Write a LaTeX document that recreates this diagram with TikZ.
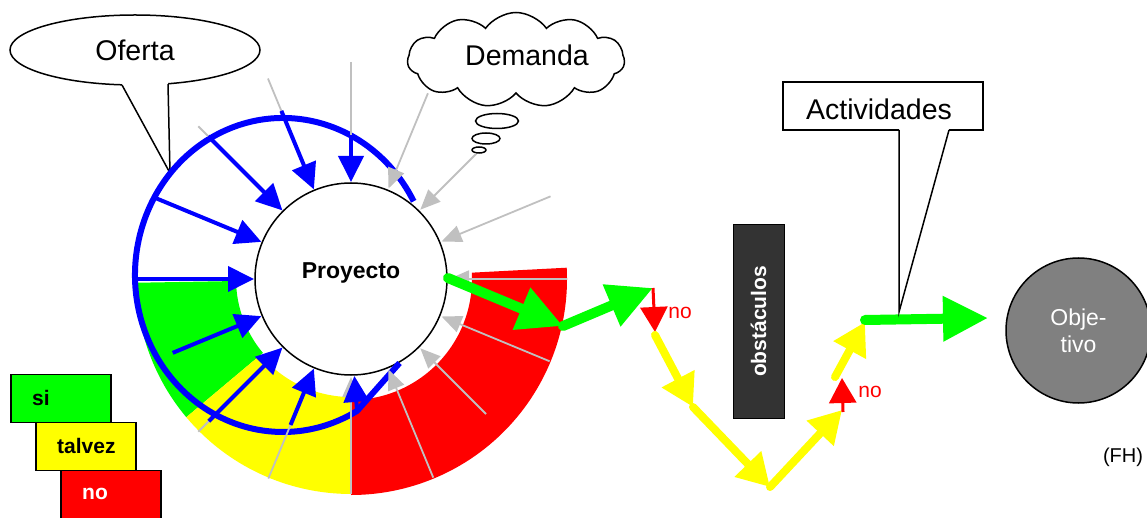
\documentclass[tikz,border=0pt]{standalone}
\usepackage{fontspec}
\setmainfont{Liberation Sans}
\usetikzlibrary{arrows.meta,shapes.symbols,shapes.geometric,calc}
\definecolor{cgreen}{RGB}{0,255,0}
\definecolor{cyellow}{RGB}{255,255,0}
\definecolor{cred}{RGB}{255,0,0}
\definecolor{cblue}{RGB}{0,0,255}
\definecolor{cgray}{RGB}{192,192,192}
\definecolor{cdark}{RGB}{51,51,51}
\definecolor{cobj}{RGB}{128,128,128}
\begin{document}
\begin{tikzpicture}[x=1pt,y=1pt,
  bigtxt/.style={font=\fontsize{28.5}{34}\selectfont, inner sep=0},
  garrow/.style={draw=cgray, line width=1.8, -{Triangle[length=20pt,width=17pt]}},
  barrow/.style={draw=cblue, line width=4, -{Triangle[length=26pt,width=25pt]}},
  grpath/.style={draw=cgreen, line width=10, line cap=round, -{Triangle[length=45pt,width=43pt]}},
  ypath/.style={draw=cyellow, line width=8, line cap=round, -{Triangle[length=32pt,width=35pt]}},
  rpath/.style={draw=cred, line width=3, -{Triangle[length=25pt,width=27pt]}},
  legbox/.style={draw, line width=1.5, minimum width=100, minimum height=48, inner sep=0, anchor=south west},
  legtxt/.style={anchor=west, inner sep=0, font=\bfseries\fontsize{21}{24}\selectfont},
  notxt/.style={text=cred, inner sep=0, font=\fontsize{21}{24}\selectfont},
  outline/.style={draw, line width=1.5, fill=white}
]
\useasboundingbox (0,0) rectangle (1147,517);
\coordinate (C) at (351,238);
\coordinate (E) at (283,242);

% coloured band
\fill[cgreen] ($(C)+(181:115)$) arc[start angle=181,end angle=220,radius=115]
  -- ($(C)+(220:215)$) arc[start angle=220,end angle=181,radius=215] -- cycle;
\fill[cyellow] ($(C)+(220:118)$) arc[start angle=220,end angle=270,radius=118]
  -- ($(C)+(270:215)$) arc[start angle=270,end angle=220,radius=215] -- cycle;
\fill[cred] ($(C)+(270:121)$) arc[start angle=270,end angle=363,radius=121]
  -- ($(C)+(363:216)$) arc[start angle=363,end angle=270,radius=216] -- cycle;

% legend
\node[legbox, fill=cgreen] (lsi) at (10,94) {};
\node[legbox, fill=cyellow] (ltal) at (35,46) {};
\node[legbox, fill=cred] (lno) at (60,-2) {};
\node[legtxt] (tsi) at ($(lsi.west)+(22,0)$) {si};
\node[legtxt] (ttal) at ($(ltal.west)+(22,0)$) {talvez};
\node[legtxt, text=white] (tno) at ($(lno.west)+(22,0)$) {no};

% Oferta callout
\node[ellipse, outline, minimum width=250, minimum height=70, inner sep=0] (ofe) at (135,467) {};
\coordinate (oa) at (122,432);
\coordinate (ob) at (168,433);
\coordinate (otip) at (170,344);
\fill[white] ($(oa)+(0,12)$) -- (oa) -- (otip) -- (ob) -- ($(ob)+(0,12)$) -- cycle;
\draw[line width=1.5] (oa) -- (otip) -- (ob);
\node[bigtxt] (ofet) at (135,467) {Oferta};

% Demanda cloud
\node[cloud, outline, cloud puffs=11, cloud puff arc=110, aspect=2.3,
      minimum width=217, minimum height=95, inner sep=0] (dem) at (516,457) {};
\node[bigtxt] (demt) at (527,462) {Demanda};
\draw[outline] (497,396) ellipse [x radius=21.5, y radius=7.5];
\draw[outline] (486,378.5) ellipse [x radius=14, y radius=5.5];
\draw[outline] (479,367) ellipse [x radius=7, y radius=3];

% Proyecto
\node[circle, outline, minimum size=192, inner sep=0] (P) at (C) {};
\node[inner sep=0, font=\bfseries\fontsize{23}{26}\selectfont] (Pt) at (351,244) {Proyecto};

% blue loop
\draw[cblue, line width=6] ($(E)+(28:148 and 157)$)
  arc[start angle=28,end angle=300,x radius=148,y radius=157] -- ($(C)+(-60:97)$);

% grey arrows
\foreach \a/\r in {0/216,22.5/216,45/177,67.5/201,90/217,112.5/217,135/216,
                   225/216,247.5/216,270/215,292.5/215,315/191,337.5/215}
  \draw[garrow] ($(C)+(\a:\r)$) -- ($(C)+(\a:98)$);

% blue arrows
\foreach \a/\r in {90/144,112.5/182,135/202,157.5/213,180/216,202.5/193,225/201,247.5/158}
  \draw[barrow] ($(C)+(\a:\r)$) -- ($(C)+(\a:97)$);
\coordinate (B270) at (357,107);
\draw[barrow] (B270) -- ($(C)+(272:97)$);

% path to the objective
\coordinate (G0) at (448,239);
\coordinate (G1) at (563,191);
\coordinate (G2) at (653,229);
\coordinate (R1) at (655,185);
\coordinate (Y0) at (655,182);
\coordinate (Y1) at (693,110);
\coordinate (Y2) at (770,30);
\coordinate (Y3) at (842,107);
\coordinate (R2s) at (843,105);
\coordinate (R2) at (842,139);
\coordinate (Y4) at (835,140);
\coordinate (Y5) at (865,195);
\coordinate (G3) at (865,197);
\coordinate (G4) at (988,199);
\draw[grpath] (G0) -- (G1);
\draw[grpath] (G1) -- (G2);
\draw[rpath] (G2) -- (R1);
\draw[ypath] (Y0) -- (Y1);
\draw[ypath] (Y1) -- (Y2);
\draw[ypath] (Y2) -- (Y3);
\draw[rpath] (R2s) -- (R2);
\draw[ypath] (Y4) -- (Y5);
\draw[grpath] (G3) -- (G4);
\node[notxt] (no1) at (680,204) {no};
\node[notxt] (no2) at (870,125) {no};

% obstaculos
\node[draw=black, fill=cdark, line width=1, minimum width=51, minimum height=193, inner sep=0] (obs) at (758.5,195.5) {};
\node[rotate=90, text=white, inner sep=0, font=\bfseries\fontsize{21}{24}\selectfont] (obst) at (obs) {obstáculos};

% Actividades callout
\node[outline, minimum width=200, minimum height=48, inner sep=0] (act) at (883,411) {};
\coordinate (aa) at (899,387);
\coordinate (ab) at (949,387);
\coordinate (actTip) at (899,205);
\fill[white] ($(aa)+(0.8,6)$) -- (aa) -- (actTip) -- (ab) -- ($(ab)+(-0.8,6)$) -- cycle;
\draw[line width=1.5] (aa) -- (actTip) -- (ab);
\node[bigtxt] (actt) at (879,408) {Actividades};

% Objetivo
\node[circle, draw, fill=cobj, line width=1.5, minimum size=145, inner sep=0, text=white,
      align=center, font=\fontsize{23}{27}\selectfont] (obj) at (1078.5,186.5) {Obje-\\tivo};

\node[inner sep=0, font=\fontsize{20}{24}\selectfont] (fh) at (1123,60) {(FH)};
\end{tikzpicture}
\end{document}
